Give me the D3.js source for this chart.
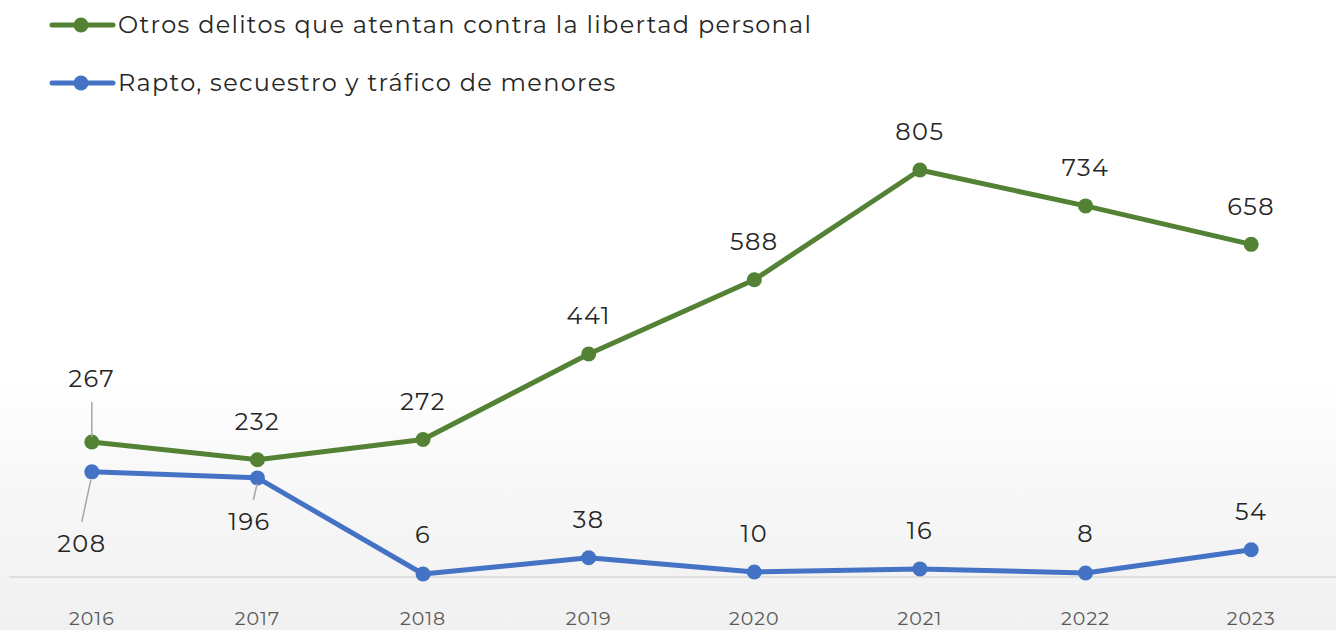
<!DOCTYPE html>
<html><head><meta charset="utf-8">
<script src="https://cdn.jsdelivr.net/npm/d3@7"></script>
<style>html,body{margin:0;padding:0;background:#fff;}svg{display:block;}</style>
</head><body>
<svg id="c" width="1336" height="630"></svg>
<script>
const years = ["2016","2017","2018","2019","2020","2021","2022","2023"];
const otros = [267,232,272,441,588,805,734,658];
const rapto = [208,196,6,38,10,16,8,54];
const seriesNames = ["Otros delitos que atentan contra la libertad personal","Rapto, secuestro y tráfico de menores"];
const colors = ["#548235","#4472C4"];

const svg = d3.select("#c");
const W = 1336, H = 630;
const font = "Montserrat, Inter, 'Open Sans', sans-serif";

const defs = svg.append("defs");
const g = defs.append("linearGradient").attr("id","bg").attr("x1",0).attr("y1",0).attr("x2",0).attr("y2",1);
g.append("stop").attr("offset","0%").attr("stop-color","#ffffff");
g.append("stop").attr("offset","60%").attr("stop-color","#ffffff");
g.append("stop").attr("offset","78%").attr("stop-color","#f7f7f7");
g.append("stop").attr("offset","100%").attr("stop-color","#f1f1f1");
svg.append("rect").attr("width",W).attr("height",H).attr("fill","url(#bg)");

const x = d3.scaleBand().domain(years).range([9,1334]);
const y = d3.scaleLinear().domain([0,900]).range([577,122]);
const cx = d => x(d) + x.bandwidth()/2;

// baseline
svg.append("line").attr("x1",9).attr("x2",1336).attr("y1",y(0)).attr("y2",y(0))
  .attr("stroke","#d9d9d9").attr("stroke-width",1.5);

// x axis labels
const xAxis = d3.axisBottom(x).tickSize(0).tickPadding(0);
const ax = svg.append("g").attr("transform",`translate(0,${y(0)})`).call(xAxis);
ax.select(".domain").remove();
ax.selectAll("text").attr("y",48).attr("dy",0).attr("font-family",font).attr("font-size",19)
  .attr("letter-spacing","1px").attr("fill","#595959");

const data = [otros, rapto];
const line = d3.line().x((d,i)=>cx(years[i])).y(d=>y(d));

data.forEach((vals,si)=>{
  svg.append("path").datum(vals).attr("d",line).attr("fill","none")
    .attr("stroke",colors[si]).attr("stroke-width",5).attr("stroke-linejoin","round");
  svg.selectAll(null).data(vals).enter().append("circle")
    .attr("cx",(d,i)=>cx(years[i])).attr("cy",d=>y(d)).attr("r",7.5).attr("fill",colors[si]);
});

// label placement offsets (label centre relative to point)
const lblOff = [
  [-63,-38,-38,-38,-38,-38,-38,-38],
  [72,44,-39,-38,-38,-38,-39,-38]
];
const lblDx = [[0,0,0,0,0,0,0,0],[-10,-8,0,0,0,0,0,0]];
const leaders = [
  [[0,-40,-5],null,null,null,null,null,null,null],
  [[-10,50,8],[-4,22,6],null,null,null,null,null,null]
];
data.forEach((vals,si)=>{
  vals.forEach((v,i)=>{
    const px = cx(years[i]), py = y(v);
    const L = leaders[si][i];
    if(L){
      svg.append("line").attr("x1",px+ (si===0?0:L[0]*0.1)).attr("y1",py+(si===0?-5:L[2]))
        .attr("x2",px+L[0]).attr("y2",py+L[1])
        .attr("stroke","#a6a6a6").attr("stroke-width",1.5);
    }
    svg.append("text").attr("x",px+lblDx[si][i]).attr("y",py+lblOff[si][i])
      .attr("dy","0.35em").attr("text-anchor","middle")
      .attr("font-family",font).attr("font-size",24).attr("letter-spacing","1.5px")
      .attr("fill","#262626").text(v);
  });
});

// legend
seriesNames.forEach((n,i)=>{
  const ly = 25 + i*58;
  svg.append("line").attr("x1",52).attr("x2",113).attr("y1",ly).attr("y2",ly)
    .attr("stroke",colors[i]).attr("stroke-width",5).attr("stroke-linecap","round");
  svg.append("circle").attr("cx",81).attr("cy",ly).attr("r",7.5).attr("fill",colors[i]);
  svg.append("text").attr("x",118).attr("y",ly).attr("dy","0.35em")
    .attr("font-family",font).attr("font-size",24).attr("letter-spacing","1.3px")
    .attr("fill","#262626").text(n);
});
</script>
</body></html>
